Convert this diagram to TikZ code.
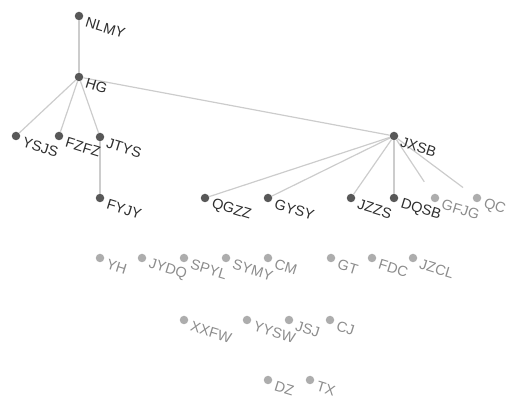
\documentclass[tikz,border=0pt]{standalone}
\usepackage{fontspec}
\setmainfont{Liberation Sans}
\usetikzlibrary{calc}
\definecolor{dkdot}{HTML}{585858}
\definecolor{ltdot}{HTML}{ADADAD}
\definecolor{dktext}{HTML}{2E2E2E}
\definecolor{lttext}{HTML}{8C8C8C}
\definecolor{edgegray}{HTML}{CCCCCC}
\begin{document}
\begin{tikzpicture}[
    x=1pt, y=-1pt,
    dot/.style={circle, inner sep=0pt, minimum size=8.5pt, fill=dkdot},
    ldot/.style={dot, fill=ltdot},
    lab/.style={anchor=west, inner sep=0pt, rotate=-17, font=\fontsize{14.5}{15}\selectfont, text=dktext},
    llab/.style={lab, text=lttext},
    edge/.style={draw=edgegray, line width=1.2pt},
]
\useasboundingbox (0,0) rectangle (507,401);

% Root and first level
\node[dot] (nlmy) at (79,16) {};
\node[dot] (hg) at (79,77) {};
\node[dot] (ysjs) at (16,136) {};
\node[dot] (fzfz) at (59,136) {};
\node[dot] (jtys) at (100,137) {};
\node[dot] (fyjy) at (100,198) {};
\node[dot] (jxsb) at (394,136) {};

% Children of JXSB
\node[dot] (qgzz) at (205,198) {};
\node[dot] (gysy) at (268,198) {};
\node[dot] (jzzs) at (351,198) {};
\node[dot] (dqsb) at (394,198) {};
\node[ldot] (gfjg) at (435,198) {};
\node[ldot] (qc) at (477,198) {};

% Loose nodes
\node[ldot] (yh) at (100,258) {};
\node[ldot] (jydq) at (142,258) {};
\node[ldot] (spyl) at (184,258) {};
\node[ldot] (symy) at (226,258) {};
\node[ldot] (cm) at (268,258) {};
\node[ldot] (gt) at (331,258) {};
\node[ldot] (fdc) at (372,258) {};
\node[ldot] (jzcl) at (413,258) {};
\node[ldot] (xxfw) at (184,320) {};
\node[ldot] (yysw) at (247,320) {};
\node[ldot] (jsj) at (289,320) {};
\node[ldot] (cj) at (330,320) {};
\node[ldot] (dz) at (268,380) {};
\node[ldot] (tx) at (310,380) {};

% Edges
\draw[edge] (nlmy) -- (hg);
\draw[edge] (hg) -- (ysjs);
\draw[edge] (hg) -- (fzfz);
\draw[edge] (hg) -- (jtys);
\draw[edge] (hg) -- (jxsb);
\draw[edge] (jtys) -- (fyjy);
\draw[edge] (jxsb) -- (qgzz);
\draw[edge] (jxsb) -- (gysy);
\draw[edge] (jxsb) -- (jzzs);
\draw[edge] (jxsb) -- (dqsb);
\draw[edge, shorten >=15pt] (jxsb) -- (gfjg);
\draw[edge, shorten >=13pt] (jxsb) -- (qc);

% Labels
\node[lab] (nlmy-l) at ($(nlmy)+(7,6)$) {NLMY};
\node[lab] (hg-l) at ($(hg)+(7,6)$) {HG};
\node[lab] (ysjs-l) at ($(ysjs)+(7,6)$) {YSJS};
\node[lab] (fzfz-l) at ($(fzfz)+(7,6)$) {FZFZ};
\node[lab] (jtys-l) at ($(jtys)+(7,6)$) {JTYS};
\node[lab] (fyjy-l) at ($(fyjy)+(7,6)$) {FYJY};
\node[lab] (jxsb-l) at ($(jxsb)+(7,6)$) {JXSB};
\node[lab] (qgzz-l) at ($(qgzz)+(7,6)$) {QGZZ};
\node[lab] (gysy-l) at ($(gysy)+(7,6)$) {GYSY};
\node[lab] (jzzs-l) at ($(jzzs)+(7,6)$) {JZZS};
\node[lab] (dqsb-l) at ($(dqsb)+(7,6)$) {DQSB};
\node[llab] (gfjg-l) at ($(gfjg)+(7,6)$) {GFJG};
\node[llab] (qc-l) at ($(qc)+(7,6)$) {QC};
\node[llab] (yh-l) at ($(yh)+(7,6)$) {YH};
\node[llab] (jydq-l) at ($(jydq)+(7,6)$) {JYDQ};
\node[llab] (spyl-l) at ($(spyl)+(7,6)$) {SPYL};
\node[llab] (symy-l) at ($(symy)+(7,6)$) {SYMY};
\node[llab] (cm-l) at ($(cm)+(7,6)$) {CM};
\node[llab] (gt-l) at ($(gt)+(7,6)$) {GT};
\node[llab] (fdc-l) at ($(fdc)+(7,6)$) {FDC};
\node[llab] (jzcl-l) at ($(jzcl)+(7,6)$) {JZCL};
\node[llab] (xxfw-l) at ($(xxfw)+(7,6)$) {XXFW};
\node[llab] (yysw-l) at ($(yysw)+(7,6)$) {YYSW};
\node[llab] (jsj-l) at ($(jsj)+(7,6)$) {JSJ};
\node[llab] (cj-l) at ($(cj)+(7,6)$) {CJ};
\node[llab] (dz-l) at ($(dz)+(7,6)$) {DZ};
\node[llab] (tx-l) at ($(tx)+(7,6)$) {TX};

\end{tikzpicture}
\end{document}
